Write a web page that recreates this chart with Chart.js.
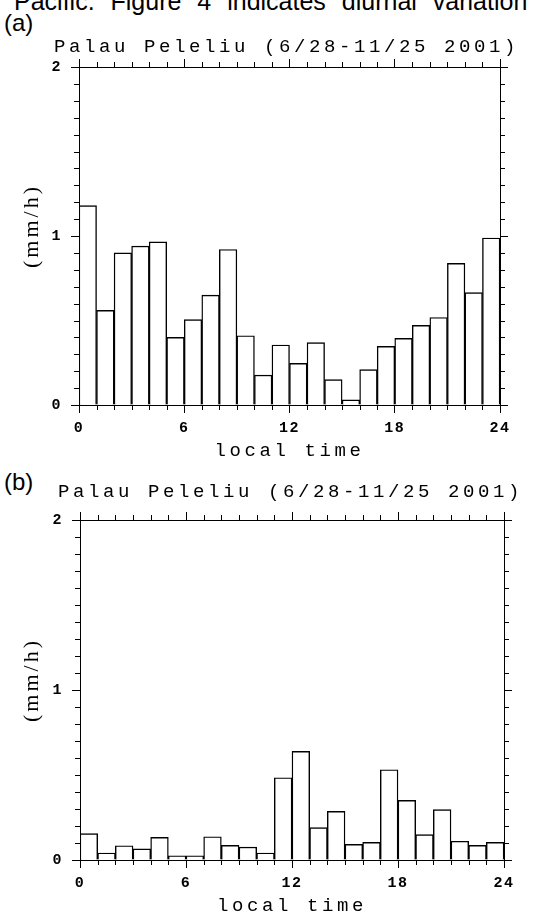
<!DOCTYPE html>
<html>
<head>
<meta charset="utf-8">
<script src="https://cdn.jsdelivr.net/npm/chart.js@4.4.0/dist/chart.umd.min.js"></script>
<style>
body { margin: 0; background: #fff; width: 543px; height: 915px; overflow: hidden; position: relative; }
.cap { position: absolute; font-family: "Liberation Sans", Arial, sans-serif; color: #000; white-space: nowrap; line-height: 1; }
canvas { position: absolute; left: 0; }
</style>
</head>
<body>
<div class="cap" style="left:14px; top:-11px; font-size:25px; word-spacing:9px;">Pacific. Figure 4 indicates diurnal variation</div>
<div class="cap" style="left:4px; top:11px; font-size:24px;">(a)</div>
<div class="cap" style="left:4px; top:470px; font-size:24px;">(b)</div>
<canvas id="chartA" width="543" height="460" style="top:0"></canvas>
<canvas id="chartB" width="543" height="455" style="top:460px"></canvas>
<script>
// hour of day at the start of each one-hour bin
var hours = [0, 1, 2, 3, 4, 5, 6, 7, 8, 9, 10, 11, 12, 13, 14, 15, 16, 17, 18, 19, 20, 21, 22, 23];
// rain rate (mm/h), panel (a)
var rainA = [1.18, 0.56, 0.90, 0.94, 0.965, 0.40, 0.505, 0.65, 0.92, 0.41, 0.177, 0.355,
             0.246, 0.369, 0.15, 0.03, 0.209, 0.347, 0.394, 0.471, 0.518, 0.838, 0.665, 0.988];
// rain rate (mm/h), panel (b)
var rainB = [0.155, 0.041, 0.084, 0.065, 0.133, 0.025, 0.025, 0.137, 0.086, 0.076, 0.041, 0.484,
             0.639, 0.19, 0.286, 0.092, 0.104, 0.531, 0.351, 0.149, 0.296, 0.11, 0.086, 0.104];
var xTicks = [0, 6, 12, 18, 24];
var yTicks = [0, 1, 2];
var minorHour = 1;
var minorRain = 0.1;
var titleText = 'Palau Peleliu (6/28-11/25 2001)';

Chart.defaults.color = '#000';

// wide letter spacing like the plotting package's stroke font
var textSpacing = {
  id: 'textSpacing',
  beforeDraw: function (chart, args, opts) {
    chart.ctx.letterSpacing = '3.6px';
    var tb = chart.titleBlock;
    if (tb && !tb._shifted) {
      tb._shifted = true;
      var tdraw = tb.draw;
      tb.draw = function (area) {
        var ctx = this.ctx;
        ctx.save();
        ctx.translate(opts.titleShift || 0, 0);
        tdraw.call(this, area);
        ctx.restore();
      };
    }
    Object.values(chart.scales).forEach(function (s) {
      if (s._spaced) return;
      s._spaced = true;
      var labels = s.drawLabels, title = s.drawTitle;
      s.drawLabels = function (area) {
        var ctx = this.ctx;
        ctx.save();
        ctx.letterSpacing = '1.5px';
        labels.call(this, area);
        ctx.restore();
      };
      if (s.id === 'y') {
        s.drawTitle = function () {
          var ctx = this.ctx;
          ctx.save();
          ctx.letterSpacing = '3px';
          ctx.translate(0, -10);
          title.call(this);
          ctx.restore();
        };
      }
    });
  }
};

// small ticks every hour and every 0.1 mm/h on all four sides
var minorTicks = {
  id: 'minorTicks',
  afterDraw: function (chart) {
    var ctx = chart.ctx, a = chart.chartArea, x = chart.scales.x, y = chart.scales.y;
    ctx.save();
    ctx.strokeStyle = '#000';
    ctx.lineWidth = 1;
    ctx.beginPath();
    for (var h = minorHour; h < 24; h += minorHour) {
      if (xTicks.indexOf(h) >= 0) continue;
      var px = Math.round(x.getPixelForValue(h)) + 0.5;
      ctx.moveTo(px, a.bottom); ctx.lineTo(px, a.bottom + 5);
      ctx.moveTo(px, a.top); ctx.lineTo(px, a.top - 5);
    }
    for (var k = 1; k < 20; k++) {
      if (k % 10 === 0) continue;
      var py = Math.round(y.getPixelForValue(k * minorRain)) + 0.5;
      ctx.moveTo(a.left - 5, py); ctx.lineTo(a.left, py);
      ctx.moveTo(a.right, py); ctx.lineTo(a.right + 5, py);
    }
    ctx.stroke();
    ctx.restore();
  }
};

function frameAxis(pos, ticks, size, extra) {
  var horiz = pos === 'top' || pos === 'bottom';
  var ax = {
    type: 'linear',
    position: pos,
    min: ticks[0],
    max: ticks[ticks.length - 1],
    offset: false,
    grid: { display: true, drawOnChartArea: false, drawTicks: true, tickLength: 8, color: '#000', lineWidth: 1, offset: false },
    border: { display: true, color: '#000', width: 1, z: 1 },
    ticks: { display: false },
    afterBuildTicks: function (s) { s.ticks = ticks.map(function (v) { return { value: v }; }); },
    afterFit: function (s) { if (horiz) s.height = size; else s.width = size; }
  };
  if (extra) Object.assign(ax, extra);
  return ax;
}

var monoFont = '"Liberation Mono", "DejaVu Sans Mono", monospace';

function makeChart(id, values, box) {
  var pts = hours.map(function (h, i) { return { x: h + 0.5, y: values[i] }; });
  return new Chart(document.getElementById(id), {
    type: 'bar',
    data: {
      datasets: [{
        data: pts,
        xAxisID: 'x',
        yAxisID: 'y',
        backgroundColor: '#fff',
        borderColor: '#000',
        borderWidth: 1.4,
        barPercentage: 1,
        categoryPercentage: 1
      }]
    },
    options: {
      responsive: false,
      animation: false,
      events: [],
      layout: { padding: 0 },
      plugins: {
        legend: { display: false },
        tooltip: { enabled: false },
        textSpacing: { titleShift: box.titleShift },
        title: {
          display: true,
          text: titleText,
          color: '#000',
          font: { family: monoFont, size: 19, weight: 'normal', lineHeight: 1.2 },
          padding: { top: box.titleTop, bottom: box.titleBottom }
        }
      },
      scales: {
        x: frameAxis('bottom', xTicks, box.height - box.bottom, {
          ticks: { display: true, padding: 6, maxRotation: 0, autoSkip: false,
                   font: { family: monoFont, size: 15, weight: 'bold' } },
          title: { display: true, text: 'local time', padding: { top: 0, bottom: -2.4 },
                   font: { family: monoFont, size: 19, lineHeight: 1.2 } }
        }),
        x2: frameAxis('top', xTicks, 8),
        y: frameAxis('left', yTicks, box.left, {
          ticks: { display: true, padding: 9,
                   font: { family: monoFont, size: 15, weight: 'bold' } },
          title: { display: true, text: '(mm/h)', padding: { top: 18.8, bottom: 0 },
                   font: { family: '"Liberation Serif", "DejaVu Serif", serif', size: 22, lineHeight: 1.2 } }
        }),
        y2: frameAxis('right', yTicks, 543 - box.right)
      }
    },
    plugins: [textSpacing, minorTicks]
  });
}

makeChart('chartA', rainA, { left: 79, right: 500, bottom: 405, height: 460, titleTop: 35.6, titleBottom: 0.6, titleShift: 15 });
makeChart('chartB', rainB, { left: 80, right: 504, bottom: 400, height: 455, titleTop: 20.6, titleBottom: 8.6, titleShift: 19 });
</script>
</body>
</html>
